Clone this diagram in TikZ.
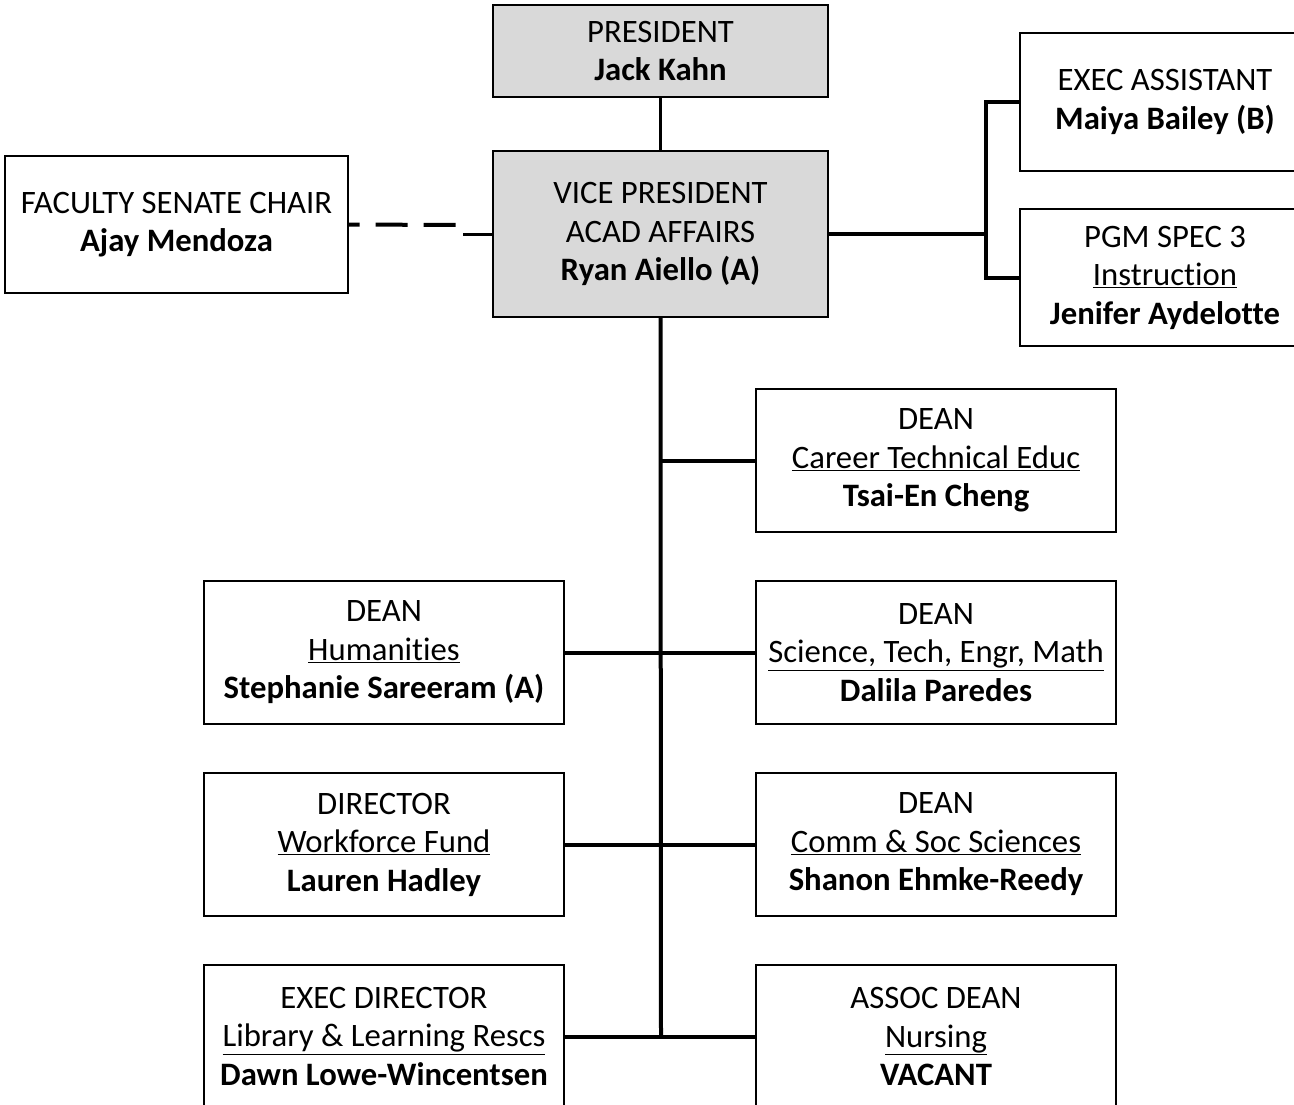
\documentclass[tikz,border=0pt]{standalone}
\usepackage{fontspec}
\setmainfont[Ligatures=NoCommon]{Carlito}
\definecolor{boxgray}{HTML}{D9D9D9}

\begin{document}
\begin{tikzpicture}[
    x=1pt,y=-1pt,
    box/.style={draw,black,line width=1.2pt,fill=white,inner sep=0pt,align=center,
      font=\fontsize{32.7}{38.5}\selectfont},
    topbox/.style={box,fill=boxgray},
    deanbox/.style={box,minimum width=360pt,minimum height=143pt},
    link/.style={black,line width=4pt},
    thinlink/.style={black,line width=2.2pt},
    dotted link/.style={black,line width=4pt,dash pattern=on 32pt off 16pt,dash phase=21pt}
    ]
    \useasboundingbox (0,0) rectangle (1294,1105);
    \clip (0,0) rectangle (1294,1105);
    \node[topbox,minimum width=335pt,minimum height=92pt] (pres) at (660.5,51) {PRESIDENT\\\textbf{Jack Kahn}};
    \node[topbox,minimum width=335pt,minimum height=166pt] (vp) at (660.5,234) {VICE PRESIDENT\\ACAD AFFAIRS\\\textbf{Ryan Aiello (A)}};
    \node[box,minimum width=343pt,minimum height=137pt] (senate) at (176.5,224.5) {FACULTY SENATE CHAIR\\\textbf{Ajay Mendoza}};
    \node[box,minimum width=290pt,minimum height=138pt] (assist) at (1165,102) {EXEC ASSISTANT\\\textbf{Maiya Bailey (B)}};
    \node[box,minimum width=290pt,minimum height=137pt] (pgm) at (1165,277.5) {PGM SPEC 3\\\underline{Instruction}\\\textbf{Jenifer Aydelotte}};
    \node[deanbox] (cte) at (936,460.5) {DEAN\\\underline{Career Technical Educ}\\\textbf{Tsai-En Cheng}};
    \node[deanbox] (hum) at (384,652.5) {DEAN\\\underline{Humanities}\\\textbf{Stephanie Sareeram (A)}};
    \node[deanbox] (stem) at (936,652.5) {DEAN\\\underline{Science, Tech, Engr, Math}\\\textbf{Dalila Paredes}};
    \node[deanbox] (wff) at (384,844.5) {DIRECTOR\\\underline{Workforce Fund}\\\textbf{Lauren Hadley}};
    \node[deanbox] (comm) at (936,844.5) {DEAN\\\underline{Comm \& Soc Sciences}\\\textbf{Shanon Ehmke-Reedy}};
    \node[deanbox] (lib) at (384,1036.5) {EXEC DIRECTOR\\\underline{Library \& Learning Rescs}\\\textbf{Dawn Lowe-Wincentsen}};
    \node[deanbox] (nurs) at (936,1036.5) {ASSOC DEAN\\\underline{Nursing}\\\textbf{VACANT}};
    \coordinate (fork) at (986,234);
    \coordinate (trunk) at (661,1037);
    \coordinate (dashend) at (456,225);
    \coordinate (stub) at (463,234);
    \draw[thinlink] (pres.south) -- (vp.north);
    \draw[link] (vp.south) -- (trunk);
    \draw[link] (vp.south |- cte.west) -- (cte.west);
    \draw[link] (hum.east) -- (stem.west);
    \draw[link] (wff.east) -- (comm.west);
    \draw[link] (lib.east) -- (nurs.west);
    \draw[link] (vp.east) -- (fork);
    \draw[link] (assist.west) -| (fork) |- (pgm.west);
    \draw[dotted link] (senate.east) -- (dashend);
    \draw[black,line width=3pt] (stub) -- (vp.west);
  \end{tikzpicture}
\end{document}
